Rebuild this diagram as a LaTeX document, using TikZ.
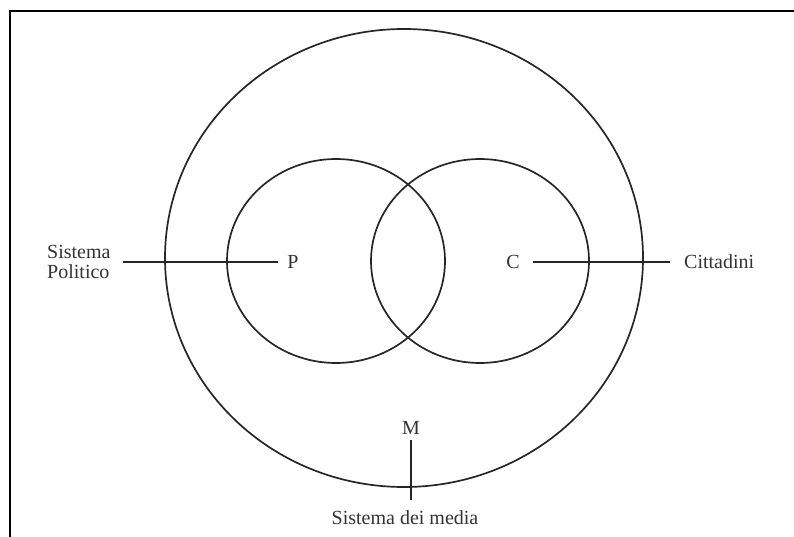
\documentclass[tikz,border=0pt]{standalone}
\usepackage{fontspec}
\setmainfont{Liberation Serif}
\begin{document}
\begin{tikzpicture}[x=1pt,y=-1pt,
  circ/.style={draw=black!85,line width=1.7pt},
  lbl/.style={font=\fontsize{20}{22}\selectfont,text=black!80,inner sep=0pt},
  lead/.style={draw=black!85,line width=1.7pt},
  frame/.style={draw=black,line width=2pt}]
\useasboundingbox (0,0) rectangle (794,537);
% frame
\coordinate (f1) at (10,537);
\coordinate (f2) at (10,11);
\coordinate (f3) at (794,11);
\draw[frame] (f1) -- (f2) -- (f3);
% circles
\draw[circ] (404,258) ellipse [x radius=239, y radius=229];
\draw[circ] (336,261) ellipse [x radius=109, y radius=102];
\draw[circ] (480,261) ellipse [x radius=109, y radius=102];
% labels
\node[lbl] (P) at (293,262) {P};
\node[lbl] (C) at (513,262) {C};
\node[lbl] (M) at (411,428) {M};
\node[lbl,align=left,anchor=west] (SP) at (47,262) {Sistema\\[-2pt]Politico};
\node[lbl,anchor=west] (Cit) at (684,262) {Cittadini};
\node[lbl] (SM) at (405,518) {Sistema dei media};
% leaders
\coordinate (pl) at (123,262);
\coordinate (pr) at (278,262);
\draw[lead] (pl) -- (pr);
\coordinate (cl) at (533,262);
\coordinate (cr) at (670,262);
\draw[lead] (cl) -- (cr);
\coordinate (mt) at (411,440);
\coordinate (mb) at (411,500);
\draw[lead] (mt) -- (mb);
\end{tikzpicture}
\end{document}
